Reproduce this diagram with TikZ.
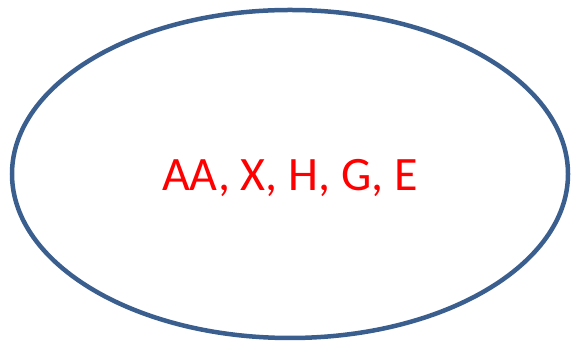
\documentclass[tikz,border=0pt]{standalone}
\usepackage{fontspec}
\setmainfont{Carlito}
\usetikzlibrary{shapes.geometric}
\definecolor{ovalblue}{HTML}{3A5F8E}
\tikzset{
  oval/.style={draw=ovalblue, ellipse, line width=4.5pt, minimum width=556pt, minimum height=328pt, inner sep=0pt},
  lbl/.style={text=red, font=\fontsize{48}{58}\selectfont, inner sep=0pt}
}

\begin{document}
\begin{tikzpicture}[x=1pt, y=1pt]
    \useasboundingbox (0,0) rectangle (572,344);
    % the set and its members
    \node[oval] (set) at (290,170) {};
    \node[lbl, anchor=base] (members) at (290,153) {AA, X, H, G, E};
\end{tikzpicture}
\end{document}
